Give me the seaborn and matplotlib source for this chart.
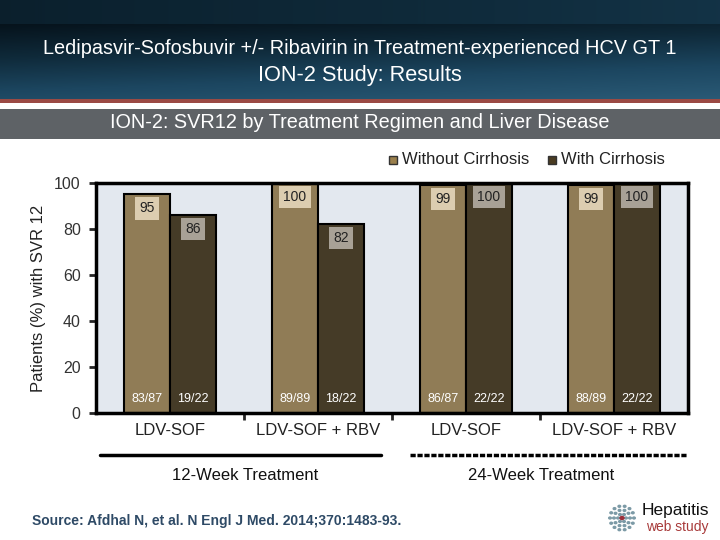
import numpy as np
import pandas as pd
import matplotlib.pyplot as plt
import seaborn as sns
from matplotlib.colors import LinearSegmentedColormap

regimens = ['LDV-SOF', 'LDV-SOF + RBV', 'LDV-SOF ', 'LDV-SOF + RBV ']
groups = ['Without Cirrhosis', 'With Cirrhosis']
without_cirr = [95, 100, 99, 99]
with_cirr = [86, 82, 100, 100]
without_n = ['83/87', '89/89', '86/87', '88/89']
with_n = ['19/22', '18/22', '22/22', '22/22']
durations = ['12-Week Treatment', '24-Week Treatment']

df = pd.DataFrame({
    'regimen': regimens * 2,
    'group': [groups[0]] * 4 + [groups[1]] * 4,
    'svr': without_cirr + with_cirr,
    'n': without_n + with_n,
})

sns.set_theme(style='white')
plt.rcParams['font.family'] = ['Liberation Sans', 'DejaVu Sans']

colors = {'Without Cirrhosis': '#9a7f4c', 'With Cirrhosis': '#4a3c22'}
label_bg = {'Without Cirrhosis': '#dccdb0', 'With Cirrhosis': '#a8a196'}

fig = plt.figure(figsize=(7.2, 5.4), dpi=100)

# header band: flat strip on top, then dark-to-lighter gradient
hdr = fig.add_axes([0, 1 - 100 / 540, 1, 100 / 540])
rows = np.concatenate([np.full(24, 0.25), np.linspace(0.0, 1.0, 76)])
hdr_img = np.outer(rows, np.ones(256)) * 0.75 + np.outer(np.ones(100), np.linspace(0, 1, 256)) * 0.25
cmap = LinearSegmentedColormap.from_list('hdr', ['#06131c', '#0f2a3a', '#1c4660', '#2a5a76'])
hdr.imshow(hdr_img, aspect='auto', cmap=cmap, extent=[0, 1, 0, 1], vmin=0, vmax=1)
hdr.axis('off')
fig.text(0.5, 1 - 48 / 540, 'Ledipasvir-Sofosbuvir +/- Ribavirin in Treatment-experienced HCV GT 1',
         ha='center', va='center', color='white', fontsize=14.3)
fig.text(0.5, 1 - 75 / 540, 'ION-2 Study: Results', ha='center', va='center', color='white', fontsize=15.7)
fig.add_artist(plt.Rectangle((0, 1 - 103 / 540), 1, 4 / 540, transform=fig.transFigure,
                             color='#9b4a44', lw=0))
fig.add_artist(plt.Rectangle((0, 1 - 139 / 540), 1, 30 / 540, transform=fig.transFigure,
                             color='#5e6266', lw=0))
fig.text(0.5, 1 - 123 / 540, 'ION-2: SVR12 by Treatment Regimen and Liver Disease',
         ha='center', va='center', color='white', fontsize=14.3)

ax = fig.add_axes([96 / 720, 1 - 413 / 540, 592 / 720, 230 / 540])
ax.set_facecolor('#e3e8ef')
sns.barplot(data=df, x='regimen', y='svr', hue='group', palette=colors, width=0.62,
            edgecolor='black', linewidth=1.5, ax=ax, legend=False)
ax.set_xlim(-0.5, 3.5)
ax.set_ylim(0, 100)
ax.set_yticks([0, 20, 40, 60, 80, 100])
ax.tick_params(axis='y', labelsize=11.5, labelcolor='#333333', length=5, width=2, left=True, pad=6)
ax.set_xticks([0.5, 1.5, 2.5], minor=True)
ax.set_xticks([0, 1, 2, 3])
ax.set_xticklabels(['LDV-SOF', 'LDV-SOF + RBV', 'LDV-SOF', 'LDV-SOF + RBV'], fontsize=12, color='#222222')
ax.tick_params(axis='x', which='major', length=0, pad=7)
ax.tick_params(axis='x', which='minor', length=5, width=2, bottom=True)
for s in ax.spines.values():
    s.set_linewidth(2.5)
    s.set_color('black')
ax.set_xlabel('')
ax.set_ylabel('Patients (%) with SVR 12', fontsize=12, color='#222222', labelpad=6)

for cont, grp in zip(ax.containers, groups):
    sub = df[df['group'] == grp]
    for bar, val, n in zip(cont, sub['svr'], sub['n']):
        cx = bar.get_x() + bar.get_width() / 2
        top = bar.get_height()
        ax.text(cx, top - 3, f'{val}', ha='center', va='top', fontsize=10, color='#222222',
                bbox=dict(boxstyle='square,pad=0.3', fc=label_bg[grp], ec='none'))
        ax.text(cx, 6, n, ha='center', va='center', fontsize=9, color='white')

# legend
for x0, grp in [(389, groups[0]), (548, groups[1])]:
    fig.add_artist(plt.Rectangle((x0 / 720, 1 - 164 / 540), 8 / 720, 8 / 540, transform=fig.transFigure,
                                 fc=colors[grp], ec='#333333', lw=1))
    fig.text((x0 + 13) / 720, 1 - 160 / 540, grp, ha='left', va='center', fontsize=12, color='#222222')

# duration brackets
fig.add_artist(plt.Line2D([100 / 720, 381 / 720], [1 - 455 / 540] * 2, color='black', lw=2.5,
                          transform=fig.transFigure))
fig.add_artist(plt.Line2D([410 / 720, 687 / 720], [1 - 455 / 540] * 2, color='black', lw=2.5,
                          ls=(0, (1.5, 0.5)), transform=fig.transFigure))
fig.text(245 / 720, 1 - 475 / 540, durations[0], ha='center', va='center', fontsize=12, color='#111111')
fig.text(541 / 720, 1 - 475 / 540, durations[1], ha='center', va='center', fontsize=12, color='#111111')

fig.text(32 / 720, 1 - 521 / 540, 'Source: Afdhal N, et al. N Engl J Med. 2014;370:1483-93.',
         ha='left', va='center', fontsize=10, fontweight='bold', color='#2e4a66')

# logo
fig.text(709 / 720, 1 - 511 / 540, 'Hepatitis', ha='right', va='center', fontsize=12.5, color='#111111')
fig.text(709 / 720, 1 - 527 / 540, 'web study', ha='right', va='center', fontsize=10, color='#a83a3a')
lx, ly = 622, 518
for r, k in [(4, 6), (8, 10), (12, 14)]:
    for a in np.linspace(0, 2 * np.pi, k, endpoint=False):
        fig.add_artist(plt.Circle(((lx + r * np.cos(a)) / 720, 1 - (ly + r * np.sin(a)) / 540), 1.3 / 720,
                                  transform=fig.transFigure, color='#7c9aa6'))
fig.add_artist(plt.Circle((lx / 720, 1 - ly / 540), 2 / 720, transform=fig.transFigure, color='#9b2f3a'))

fig.savefig('out.png', dpi=100)
